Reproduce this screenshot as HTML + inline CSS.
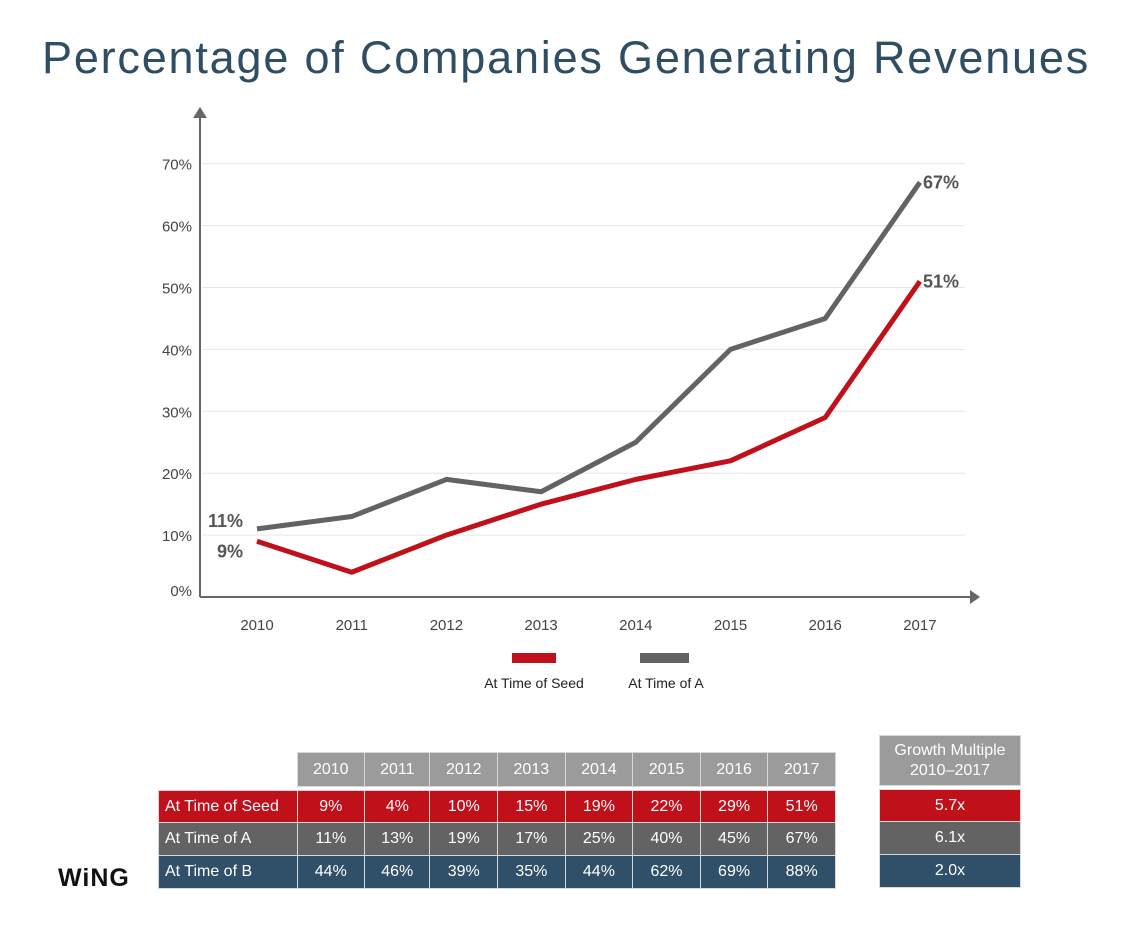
<!DOCTYPE html>
<html><head><meta charset="utf-8"><style>
body{margin:0;background:#fff;font-family:"Liberation Sans",sans-serif;}
#wrap{position:relative;width:1132px;height:936px;overflow:hidden;}
h1{position:absolute;top:32px;left:0;width:1132px;text-align:center;margin:0;font-weight:normal;font-size:45px;color:#2f4d63;letter-spacing:1.8px;}
table{position:absolute;border-collapse:collapse;font-size:16px;color:#fff;}
td{border:1px solid #d8d8d8;text-align:center;padding:0;}
</style></head><body><div id="wrap">
<h1>Percentage of Companies Generating Revenues</h1>
<svg id="chart" width="1132" height="720" style="position:absolute;left:0;top:0"></svg>
<table style="left:158px;top:752px;width:678px">
<tr style="height:34px"><td style="border:none;width:138px"></td><td style="background:#9b9b9b">2010</td><td style="background:#9b9b9b">2011</td><td style="background:#9b9b9b">2012</td><td style="background:#9b9b9b">2013</td><td style="background:#9b9b9b">2014</td><td style="background:#9b9b9b">2015</td><td style="background:#9b9b9b">2016</td><td style="background:#9b9b9b">2017</td></tr>
<tr style="height:4px"><td colspan="9" style="border:none"></td></tr>
<tr style="height:32px;background:#c0111a"><td style="text-align:left;padding-left:6px">At Time of Seed</td><td>9%</td><td>4%</td><td>10%</td><td>15%</td><td>19%</td><td>22%</td><td>29%</td><td>51%</td></tr>
<tr style="height:33px;background:#636363"><td style="text-align:left;padding-left:6px">At Time of A</td><td>11%</td><td>13%</td><td>19%</td><td>17%</td><td>25%</td><td>40%</td><td>45%</td><td>67%</td></tr>
<tr style="height:33px;background:#2f5068"><td style="text-align:left;padding-left:6px">At Time of B</td><td>44%</td><td>46%</td><td>39%</td><td>35%</td><td>44%</td><td>62%</td><td>69%</td><td>88%</td></tr>
</table>
<table style="left:879px;top:735px;width:142px">
<tr style="height:50px;background:#9b9b9b"><td style="line-height:20px">Growth Multiple<br>2010–2017</td></tr>
<tr style="height:4px"><td style="border:none"></td></tr>
<tr style="height:32px;background:#c0111a"><td>5.7x</td></tr>
<tr style="height:33px;background:#636363"><td>6.1x</td></tr>
<tr style="height:33px;background:#2f5068"><td>2.0x</td></tr>
</table>
<div style="position:absolute;left:58px;top:864px;font-size:25px;font-weight:bold;color:#111;letter-spacing:1px">WiNG</div>
</div>
<script>
const years=[2010,2011,2012,2013,2014,2015,2016,2017];
const seed=[9,4,10,15,19,22,29,51];
const seriesA=[11,13,19,17,25,40,45,67];
const yTicks=[0,10,20,30,40,50,60,70];
const NS="http://www.w3.org/2000/svg";
const svg=document.getElementById('chart');
const x=i=>257+i*94.7;
const y=v=>597-v*6.19;
function mk(t,a){const e=document.createElementNS(NS,t);for(const k in a)e.setAttribute(k,a[k]);svg.appendChild(e);return e;}
yTicks.forEach(v=>{
 if(v>0){const g=mk('line',{x1:202,x2:965,y1:y(v),y2:y(v),stroke:'#e6e6e6','stroke-width':1});
 
 }
 const t=mk('text',{x:192,y:y(v)+(v==0?-1:6),'text-anchor':'end','font-size':15,fill:'#444','font-family':'Liberation Sans'});
 t.textContent=v+'%';
 
 
});
years.forEach((yr,i)=>{const t=mk('text',{x:x(i),y:630,'text-anchor':'middle','font-size':15,fill:'#444','font-family':'Liberation Sans'});t.textContent=yr;
 
 });
let ax=mk('path',{d:'M200 597V116M200 597H972',stroke:'#666','stroke-width':2,fill:'none'});


mk('path',{d:'M193 118L200 107L207 118Z',fill:'#666'});
mk('path',{d:'M970 590L980 597L970 604Z',fill:'#666'});
function line(d,c,name){const p=mk('polyline',{points:d.map((v,i)=>x(i)+','+y(v)).join(' '),fill:'none',stroke:c,'stroke-width':5,'stroke-linejoin':'round'});
 
 }
line(seriesA,'#636363','line-time-of-a');
line(seed,'#c0111a','line-time-of-seed');
function lab(txt,xx,yy,anchor){const t=mk('text',{x:xx,y:yy,'text-anchor':anchor,'font-size':18,'font-weight':'bold',fill:'#555','font-family':'Liberation Sans'});t.textContent=txt;
 
 }
lab(seriesA[0]+'%',243,y(seriesA[0])-2,'end');
lab(seed[0]+'%',243,y(seed[0])+16,'end');
lab(seriesA[7]+'%',923,y(seriesA[7])+6,'start');
lab(seed[7]+'%',923,y(seed[7])+6,'start');
let l1=mk('rect',{x:512,y:653,width:44,height:10,fill:'#c0111a'});


let l2=mk('rect',{x:640,y:653,width:49,height:10,fill:'#636363'});


[['At Time of Seed',534],['At Time of A',666]].forEach(([s,cx])=>{const t=mk('text',{x:cx,y:688,'text-anchor':'middle','font-size':14,fill:'#222','font-family':'Liberation Sans'});t.textContent=s;
 
 });
</script>
</body></html>
